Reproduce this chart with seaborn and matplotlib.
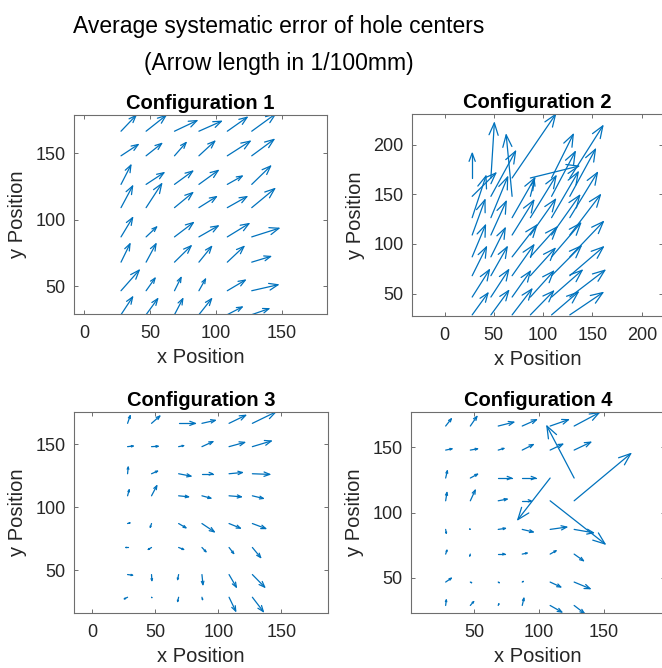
import numpy as np
import matplotlib
matplotlib.use("Agg")
import matplotlib.pyplot as plt
from matplotlib.collections import LineCollection
import seaborn as sns

# hole centres on the plate (mm), same grid for every configuration
x_holes = [28, 47, 68.5, 87, 108.5, 127]
y_holes = [166.5, 148, 126.5, 109, 87, 68, 46.5, 28.5]

# mean error per hole (1/100 mm), rows top -> bottom, columns left -> right
u1 = [[11.3, 15.0, 17.0, 17.0, 15.0, 18.0],
      [13.0, 11.8, 8.8, 12.0, 17.3, 16.8],
      [7.5, 13.5, 13.8, 14.6, 11.3, 14.3],
      [8.8, 11.8, 13.8, 13.3, 14.8, 17.4],
      [8.8, 8.0, 14.3, 14.6, 16.4, 20.6],
      [6.8, 7.5, 12.6, 9.6, 12.6, 14.3],
      [13.8, 6.8, 5.0, 5.0, 13.6, 19.9],
      [8.8, 8.8, 6.3, 9.6, 11.3, 13.0]]
v1 = [[11.8, 11.8, 8.0, 7.5, 10.5, 13.0],
      [8.5, 9.3, 10.0, 11.0, 11.0, 12.3],
      [14.5, 8.8, 10.0, 10.5, 6.3, 13.8],
      [16.3, 18.0, 11.3, 8.3, 8.3, 14.3],
      [14.5, 7.5, 10.8, 8.3, 10.0, 6.5],
      [13.8, 13.8, 12.3, 11.8, 11.8, 4.3],
      [15.5, 9.5, 10.0, 8.8, 8.0, 4.5],
      [13.3, 12.0, 12.0, 12.0, 5.8, 4.5]]

u2 = [[0.0, 3.5, 44.0, 49.0, 22.0, 33.5],
      [24.0, 25.0, -6.0, 4.0, 24.0, 26.0],
      [14.0, 17.0, 23.0, 26.0, 27.0, 28.0],
      [13.0, 15.5, 22.0, 25.5, 28.5, 31.0],
      [13.5, 14.5, 25.0, 27.0, 29.5, 34.0],
      [14.5, 16.5, 22.0, 25.0, 30.0, 34.0],
      [17.5, 18.0, 18.5, 23.5, 31.0, 35.5],
      [16.0, 18.0, 20.0, 23.5, 27.0, 33.5]]
v2 = [[25.0, 55.5, 64.0, 12.0, 44.0, 52.5],
      [23.5, 45.5, 62.0, 16.0, 45.0, 47.5],
      [42.0, 41.0, 40.0, 42.0, 46.0, 45.5],
      [35.5, 34.0, 35.0, 36.0, 40.0, 40.5],
      [32.0, 29.0, 32.0, 30.0, 34.0, 35.5],
      [29.0, 29.0, 31.0, 27.5, 30.0, 29.0],
      [27.5, 27.5, 26.0, 26.0, 27.0, 27.0],
      [22.0, 24.5, 26.0, 24.0, 23.0, 22.5]]

u3 = [[2.1, 6.6, 13.2, 10.6, 13.2, 18.5],
      [4.5, 5.3, 4.0, 8.7, 12.4, 15.0],
      [0.5, 4.8, 9.8, 8.5, 10.6, 13.8],
      [1.3, 4.2, 7.9, 7.1, 9.8, 8.7],
      [1.9, -1.0, 5.8, 9.8, 9.0, 10.6],
      [-1.5, -2.6, 4.0, 3.2, 3.7, 6.6],
      [4.0, 0.3, -0.8, 0.8, 5.8, 9.8],
      [-2.6, 0.3, -0.8, 0.5, 5.3, 8.7]]
v3 = [[6.1, 5.8, 0.0, 2.4, 6.4, 9.0],
      [0.5, 0.3, 0.8, 4.0, 3.4, 4.5],
      [5.3, 2.1, -1.9, 0.0, 1.0, -0.5],
      [4.8, 8.0, -0.8, -1.9, -0.8, -2.1],
      [0.5, -3.0, -3.4, -6.6, -3.7, -4.0],
      [0.0, -1.6, -1.6, -3.4, -4.8, -8.0],
      [-0.5, -4.8, -4.0, -8.0, -10.0, -10.0],
      [-1.3, -0.3, -3.4, -1.9, -11.0, -11.4]]

u4 = [[4.4, 5.1, 12.0, 11.0, 14.1, 19.2],
      [4.9, 5.6, 4.4, 8.5, 9.7, 12.8],
      [1.3, 5.6, 10.3, 10.3, -24.9, -21.0],
      [1.0, 3.8, 6.9, 6.9, 42.3, 43.6],
      [0.5, -0.5, 5.6, 8.5, 12.8, 14.9],
      [1.0, -0.5, 5.1, 3.8, 4.6, 7.2],
      [4.4, 1.0, 0.8, 0.8, 8.2, 12.3],
      [0.5, 2.6, 0.5, 1.3, 9.0, 7.7]]
v4 = [[5.6, 7.4, 3.0, 4.9, 4.9, 10.2],
      [1.0, 1.0, 1.3, 4.3, 4.6, 6.1],
      [5.6, 3.0, 0.0, 0.0, -32.0, 40.0],
      [6.4, 8.2, 1.3, 0.0, -33.2, 36.3],
      [-3.0, 0.3, 0.8, -2.0, 1.8, -2.6],
      [3.0, -1.5, 0.0, 0.8, 2.6, -5.1],
      [3.0, -0.5, -0.5, 0.5, -3.8, -5.1],
      [4.3, 3.0, 1.3, 5.6, -5.1, -5.9]]

titles = ["Configuration 1", "Configuration 2", "Configuration 3", "Configuration 4"]
x_limits = [(-7.6, 184), (-33, 221.5), (-14.5, 187), (1.3, 197)]
y_limits = [(29, 178.7), (27.4, 231), (16, 175.5), (22.7, 177.3)]
x_ticks = [[0, 50, 100, 150], [0, 50, 100, 150, 200], [0, 50, 100, 150], [50, 100, 150]]
y_ticks = [[50, 100, 150], [50, 100, 150, 200], [50, 100, 150], [50, 100, 150]]

ARROW_COLOR = "#0072BD"
AXIS_COLOR = "#6e6e6e"
TEXT_COLOR = "#262626"


def draw_quiver(ax, u, v, ylim):
    """matlab-like quiver: straight shaft plus open V head"""
    gx, gy = np.meshgrid(x_holes, y_holes)
    x0, y0 = gx.ravel(), gy.ravel()
    du = np.asarray(u, float).ravel()
    dv = np.asarray(v, float).ravel()
    length = np.hypot(du, dv)
    length[length == 0] = 1e-9
    ex, ey = du / length, dv / length
    head = np.minimum(0.33 * length, 0.06 * (ylim[1] - ylim[0]))
    half = 0.38 * head
    tx, ty = x0 + du, y0 + dv
    segs = []
    for i in range(len(x0)):
        segs.append([(x0[i], y0[i]), (tx[i], ty[i])])
        bx = tx[i] - head[i] * ex[i]
        by = ty[i] - head[i] * ey[i]
        segs.append([(bx - half[i] * ey[i], by + half[i] * ex[i]),
                     (tx[i], ty[i]),
                     (bx + half[i] * ey[i], by - half[i] * ex[i])])
    ax.add_collection(LineCollection(segs, colors=ARROW_COLOR, linewidths=0.9,
                                     capstyle="round", joinstyle="round"))


def main():
    sns.set_theme(style="ticks")
    plt.rcParams["font.family"] = ["Liberation Sans", "DejaVu Sans"]

    W, H = 662, 668
    fig = plt.figure(figsize=(W / 100, H / 100), dpi=100)

    # axes boxes in pixels: left, top, right, bottom
    boxes = [(74, 115, 327, 314), (412, 114, 663, 316),
             (74, 412, 328, 613), (411, 412, 665, 613)]
    data = [(u1, v1), (u2, v2), (u3, v3), (u4, v4)]

    for k, (l, t, r, b) in enumerate(boxes):
        ax = fig.add_axes([l / W, 1 - b / H, (r - l) / W, (b - t) / H])
        ax.set_xlim(*x_limits[k])
        ax.set_ylim(*y_limits[k])
        draw_quiver(ax, data[k][0], data[k][1], y_limits[k])

        ax.set_xticks(x_ticks[k])
        ax.set_yticks(y_ticks[k])
        ax.tick_params(direction="in", top=True, right=True, length=3,
                       width=0.7, color=AXIS_COLOR, labelsize=13,
                       labelcolor=TEXT_COLOR)
        ax.tick_params(axis="x", pad=8)
        ax.tick_params(axis="y", pad=6)
        for sp in ax.spines.values():
            sp.set_visible(True)
            sp.set_color(AXIS_COLOR)
            sp.set_linewidth(0.8)
        ax.set_xlabel("x Position", fontsize=14.5, color=TEXT_COLOR, labelpad=4)
        ax.set_ylabel("y Position", fontsize=14.5, color=TEXT_COLOR, labelpad=6)
        ax.set_title(titles[k], fontsize=14.5, fontweight="bold", color="black", pad=4.5)

    fig.text(279 / W, 1 - 32.5 / H, "Average systematic error of hole centers",
             ha="center", va="baseline", fontsize=16.5, color="black")
    fig.text(279 / W, 1 - 70 / H, "(Arrow length in 1/100mm)",
             ha="center", va="baseline", fontsize=16.5, color="black")

    fig.savefig("out.png", dpi=100, facecolor="white")
    plt.close(fig)


if __name__ == "__main__":
    main()
